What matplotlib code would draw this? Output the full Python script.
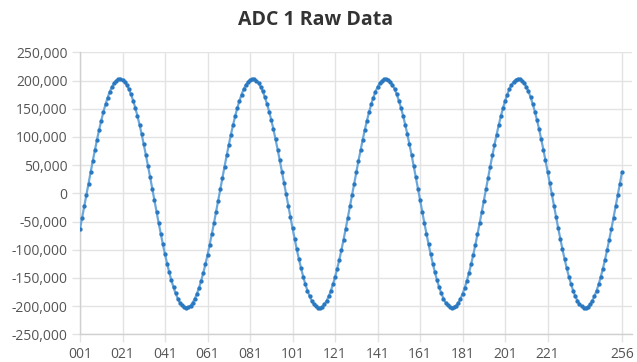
import matplotlib
matplotlib.use("Agg")
import matplotlib.pyplot as plt
from matplotlib.ticker import FuncFormatter

# ADC sample values (counts), samples 001..256
adc_values = [
    -63200, -43500, -23400, -3100, 17300, 37500, 57400, 76600, 95100, 112600, 129000, 144100, 157700, 169700, 180100, 188600,
    195200, 199800, 202400, 202900, 201500, 197900, 192400, 185000, 175600, 164500, 151800, 137500, 121800, 104900, 86900, 68000,
    48500, 28500, 8200, -12200, -32500, -52500, -71900, -90600, -108300, -125000, -140400, -154400, -166900, -177600, -186600, -193700,
    -198800, -201900, -203000, -202000, -199000, -194000, -187000, -178100, -167500, -155100, -141200, -125800, -109200, -91500, -72800, -53400,
    -33500, -13300, 7100, 27500, 47500, 67100, 86000, 104000, 121000, 136700, 151100, 163900, 175100, 184500, 192100, 197700,
    201300, 202900, 202500, 200000, 195400, 188900, 180500, 170300, 158300, 144800, 129800, 113500, 96000, 77600, 58300, 38500,
    18300, -2000, -22400, -42500, -62200, -81300, -99600, -116800, -132900, -147600, -160900, -172500, -182400, -190400, -196500, -200600,
    -202700, -202800, -200800, -196700, -190700, -182800, -173000, -161500, -148300, -133700, -117700, -100500, -82300, -63200, -43500, -23400,
    -3100, 17300, 37500, 57400, 76600, 95100, 112600, 129000, 144100, 157700, 169700, 180100, 188600, 195200, 199800, 202400,
    202900, 201500, 197900, 192400, 185000, 175600, 164500, 151800, 137500, 121800, 104900, 86900, 68000, 48500, 28500, 8200,
    -12200, -32500, -52500, -71900, -90600, -108300, -125000, -140400, -154400, -166900, -177600, -186600, -193700, -198800, -201900, -203000,
    -202000, -199000, -194000, -187000, -178100, -167500, -155100, -141200, -125800, -109200, -91500, -72800, -53400, -33500, -13300, 7100,
    27500, 47500, 67100, 86000, 104000, 121000, 136700, 151100, 163900, 175100, 184500, 192100, 197700, 201300, 202900, 202500,
    200000, 195400, 188900, 180500, 170300, 158300, 144800, 129800, 113500, 96000, 77600, 58300, 38500, 18300, -2000, -22400,
    -42500, -62200, -81300, -99600, -116800, -132900, -147600, -160900, -172500, -182400, -190400, -196500, -200600, -202700, -202800, -200800,
    -196700, -190700, -182800, -173000, -161500, -148300, -133700, -117700, -100500, -82300, -63200, -43500, -23400, -3100, 17300, 37500,
]
sample_index = list(range(1, len(adc_values) + 1))

x_tick_positions = [1, 21, 41, 61, 81, 101, 121, 141, 161, 181, 201, 221, 256]
x_tick_labels = ["001", "021", "041", "061", "081", "101", "121", "141", "161", "181", "201", "221", "256"]
y_ticks = [-250000, -200000, -150000, -100000, -50000, 0, 50000, 100000, 150000, 200000, 250000]

title = "ADC 1 Raw Data"

plt.rcParams['font.family'] = ['Open Sans', 'DejaVu Sans']

W, H = 637, 362
fig = plt.figure(figsize=(W / 100, H / 100), dpi=100)
ax = fig.add_axes([80 / W, 1 - 334.3 / H, (632 - 80) / W, (334.3 - 52.3) / H])

grid_c = "#e3e3e3"
ax.plot(sample_index, adc_values, color="#6aa8dc", lw=1.6, zorder=3)
ax.plot(sample_index, adc_values, linestyle="none", marker="o", markersize=3.1,
        markerfacecolor="#2a78bf", markeredgewidth=0, zorder=4)

ax.set_xlim(1, 260.7)
ax.set_ylim(-250000, 250000)
ax.set_xticks(x_tick_positions)
ax.set_xticklabels(x_tick_labels)
ax.set_yticks(y_ticks)
ax.yaxis.set_major_formatter(FuncFormatter(lambda v, p: f"{int(v):,}"))

ax.grid(True, color=grid_c, linewidth=1.0, zorder=0)
ax.set_axisbelow(True)
for s in ["top", "right"]:
    ax.spines[s].set_visible(False)
for s in ["left", "bottom"]:
    ax.spines[s].set_color("#d0d0d0")
    ax.spines[s].set_linewidth(1.0)

ax.tick_params(axis="both", length=6, width=1.0, color=grid_c, labelcolor="#555555", labelsize=10)
ax.tick_params(axis="y", pad=3)
ax.tick_params(axis="x", pad=3)

fig.text(316 / W, 1 - 20 / H, title, ha="center", va="center", fontsize=14,
         fontweight="bold", color="#333333")

fig.savefig("out.png", dpi=100)
